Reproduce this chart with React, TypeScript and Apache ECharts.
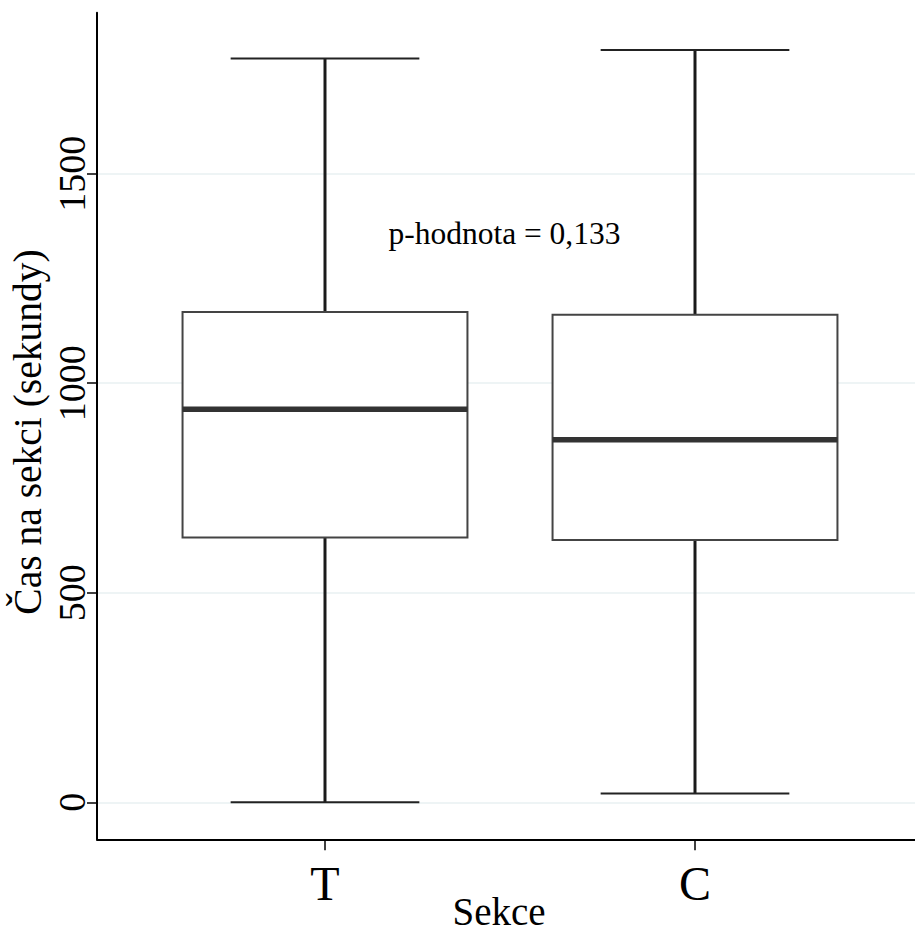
import React, { useEffect, useRef } from "react";
import * as echarts from "echarts";

const categories = ["T", "C"];
const categoryPositions = [1, 2];
const whiskerLow = [0, 21];
const q1 = [632, 626];
const median = [938, 865];
const q3 = [1170, 1163];
const whiskerHigh = [1775, 1795];
const yTicks = [0, 500, 1000, 1500];
const annotationText = "p-hodnota = 0,133";
const annotationPos = [1.485, 1358];

const FONT = "Liberation Serif, DejaVu Serif, serif";

export default function App() {
  const ref = useRef<HTMLDivElement>(null);
  useEffect(() => {
    document.body.style.margin = "0";
    const chart = echarts.init(ref.current!, null, { renderer: "svg" });
    const boxData = categories.map((c, i) => [
      categoryPositions[i],
      whiskerLow[i],
      q1[i],
      median[i],
      q3[i],
      whiskerHigh[i],
    ]);
    chart.setOption({
      animation: false,
      backgroundColor: "#ffffff",
      textStyle: { fontFamily: FONT },
      grid: {
        left: 97,
        top: 12.7,
        width: 826,
        height: 826.6,
        containLabel: false,
        outerBoundsMode: "none",
      },
      xAxis: {
        type: "value",
        min: 0.3838,
        max: 2.6162,
        axisLine: { onZero: false, lineStyle: { color: "#000", width: 2 } },
        axisTick: {
          show: true,
          customValues: categoryPositions,
          length: 11,
          lineStyle: { color: "#000", width: 1.5 },
        },
        axisLabel: {
          customValues: categoryPositions,
          formatter: (v: number) => categories[categoryPositions.indexOf(v)] ?? "",
          fontSize: 48,
          color: "#000",
          fontFamily: FONT,
          margin: 20,
        },
        splitLine: { show: false },
        name: "Sekce",
        nameLocation: "middle",
        nameGap: 53,
        nameMoveOverlap: false,
        nameTextStyle: { fontSize: 39, color: "#000", fontFamily: FONT, padding: [0, 22, 0, 0] },
      },
      yAxis: {
        type: "value",
        min: -88.3,
        max: 1884,
        axisLine: { show: true, lineStyle: { color: "#000", width: 2 } },
        axisTick: {
          show: true,
          customValues: yTicks,
          length: 10,
          lineStyle: { color: "#000", width: 1.5 },
        },
        axisLabel: {
          customValues: yTicks,
          formatter: (v: number) => String(v),
          rotate: 90,
          fontSize: 38,
          color: "#000",
          fontFamily: FONT,
          margin: 6,
        },
        splitLine: {
          show: true,
          customValues: yTicks,
          lineStyle: { color: "#e8f0f2", width: 1.5 },
        },
        name: "Čas na sekci (sekundy)",
        nameLocation: "middle",
        nameGap: 49,
        nameMoveOverlap: false,
        nameTextStyle: { fontSize: 39.5, color: "#000", fontFamily: FONT, padding: [0, 12, 0, 0] },
      },
      series: [
        {
          type: "custom",
          data: boxData,
          encode: { x: 0, y: [1, 2, 3, 4, 5] },
          renderItem: (params: any, api: any) => {
            const x = api.value(0);
            const pLo = api.coord([x, api.value(1)]);
            const pQ1 = api.coord([x, api.value(2)]);
            const pMed = api.coord([x, api.value(3)]);
            const pQ3 = api.coord([x, api.value(4)]);
            const pHi = api.coord([x, api.value(5)]);
            const boxHalf = api.size([0.77, 0])[0] / 2;
            const capHalf = api.size([0.51, 0])[0] / 2;
            const cx = pLo[0];
            return {
              type: "group",
              children: [
                {
                  type: "line",
                  shape: { x1: cx, y1: pQ3[1], x2: cx, y2: pHi[1] },
                  style: { stroke: "#1a1a1a", lineWidth: 3 },
                },
                {
                  type: "line",
                  shape: { x1: cx, y1: pQ1[1], x2: cx, y2: pLo[1] },
                  style: { stroke: "#1a1a1a", lineWidth: 3 },
                },
                {
                  type: "line",
                  shape: { x1: cx - capHalf, y1: pHi[1], x2: cx + capHalf, y2: pHi[1] },
                  style: { stroke: "#222", lineWidth: 2 },
                },
                {
                  type: "line",
                  shape: { x1: cx - capHalf, y1: pLo[1], x2: cx + capHalf, y2: pLo[1] },
                  style: { stroke: "#222", lineWidth: 2 },
                },
                {
                  type: "rect",
                  shape: { x: cx - boxHalf, y: pQ3[1], width: boxHalf * 2, height: pQ1[1] - pQ3[1] },
                  style: { fill: "#ffffff", stroke: "#444", lineWidth: 2 },
                },
                {
                  type: "line",
                  shape: { x1: cx - boxHalf, y1: pMed[1], x2: cx + boxHalf, y2: pMed[1] },
                  style: { stroke: "#333", lineWidth: 5.5 },
                },
              ],
            };
          },
        },
        {
          type: "custom",
          data: [annotationPos],
          encode: { x: 0, y: 1 },
          renderItem: (params: any, api: any) => {
            const p = api.coord([api.value(0), api.value(1)]);
            return {
              type: "text",
              x: p[0],
              y: p[1],
              style: {
                text: annotationText,
                fontSize: 31.5,
                fontFamily: FONT,
                fill: "#000",
                align: "center",
                verticalAlign: "middle",
              },
            };
          },
        },
      ],
    });
    return () => chart.dispose();
  }, []);
  return (
    <div
      ref={ref}
      style={{ position: "fixed", left: 0, top: 0, width: 915, height: 929 }}
    />
  );
}
